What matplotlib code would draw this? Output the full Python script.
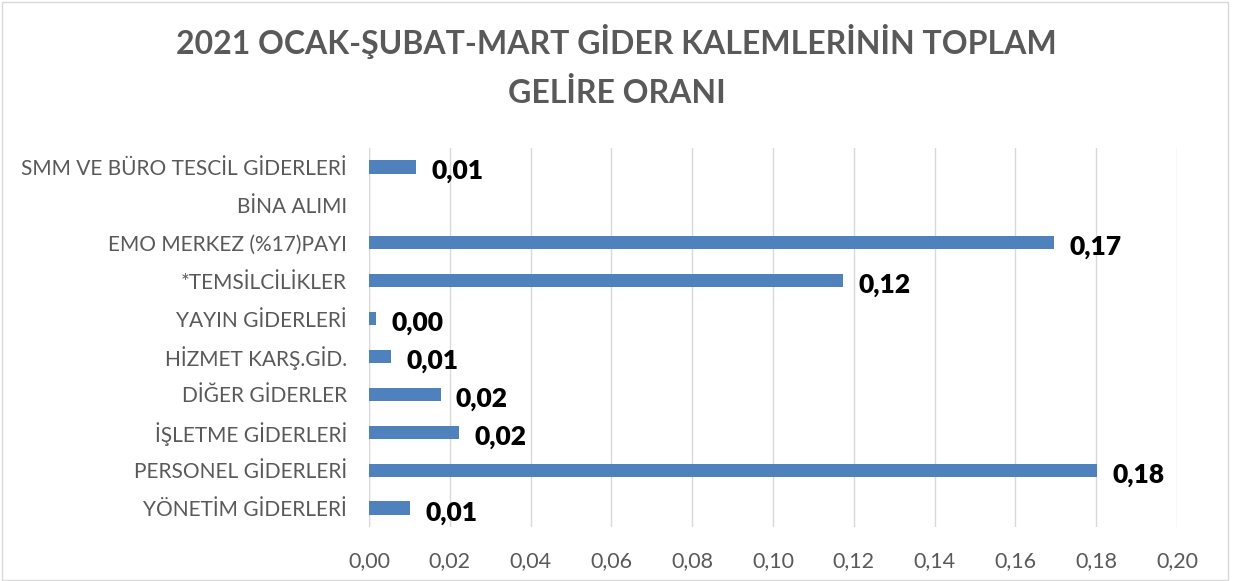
import matplotlib.pyplot as plt
from matplotlib.patches import Rectangle

categories = ['YÖNETİM GİDERLERİ', 'PERSONEL GİDERLERİ', 'İŞLETME GİDERLERİ',
              'DİĞER GİDERLER', 'HİZMET KARŞ.GİD.', 'YAYIN GİDERLERİ',
              '*TEMSİLCİLİKLER', 'EMO MERKEZ (%17)PAYI', 'BİNA ALIMI',
              'SMM VE BÜRO TESCİL GİDERLERİ']
values = [0.0102, 0.1802, 0.0222, 0.0177, 0.0055, 0.0018,
          0.1174, 0.1696, None, 0.0117]
xticks = [0.00, 0.02, 0.04, 0.06, 0.08, 0.10, 0.12, 0.14, 0.16, 0.18, 0.20]

plt.rcParams['font.family'] = ['Lato', 'DejaVu Sans']

fig = plt.figure(figsize=(12.33, 5.81), dpi=100)
ax = fig.add_axes([369 / 1233, 1 - 527 / 581, (1177 - 369) / 1233, (527 - 148) / 581])

pos = list(range(len(categories)))
ax.barh(pos, [v if v is not None else 0 for v in values], height=0.35,
        color='#4F81BD', zorder=3)
for p, v in zip(pos, values):
    if v is None:
        continue
    ax.text(v + 0.0038, p - 0.12, f'{v:.2f}'.replace('.', ','), va='center',
            ha='left', fontsize=19, fontweight='heavy', color='black')

ax.set_xlim(0, 0.2)
ax.set_ylim(-0.5, len(categories) - 0.5)
ax.set_xticks(xticks)
ax.set_xticklabels([f'{t:.2f}'.replace('.', ',') for t in xticks])
ax.set_yticks(pos)
ax.set_yticklabels(categories)
ax.tick_params(axis='x', length=0, pad=17, labelsize=15.5, colors='#595959')
ax.tick_params(axis='y', length=0, pad=16, labelsize=15, colors='#595959')
ax.grid(axis='x', color='#D9D9D9', linewidth=1, zorder=0)
for s in ax.spines.values():
    s.set_visible(False)
ax.axvline(0, color='#D9D9D9', linewidth=1, zorder=1)

fig.suptitle('2021 OCAK-ŞUBAT-MART GİDER KALEMLERİNİN TOPLAM\nGELİRE ORANI',
             x=0.5, y=0.958, fontsize=23, fontweight='bold', color='#595959',
             linespacing=1.75)
fig.patches.append(Rectangle((0.002, 0.002), 0.994, 0.994, transform=fig.transFigure,
                             fill=False, edgecolor='#D9D9D9', linewidth=1))

fig.savefig('out.png', dpi=100)
